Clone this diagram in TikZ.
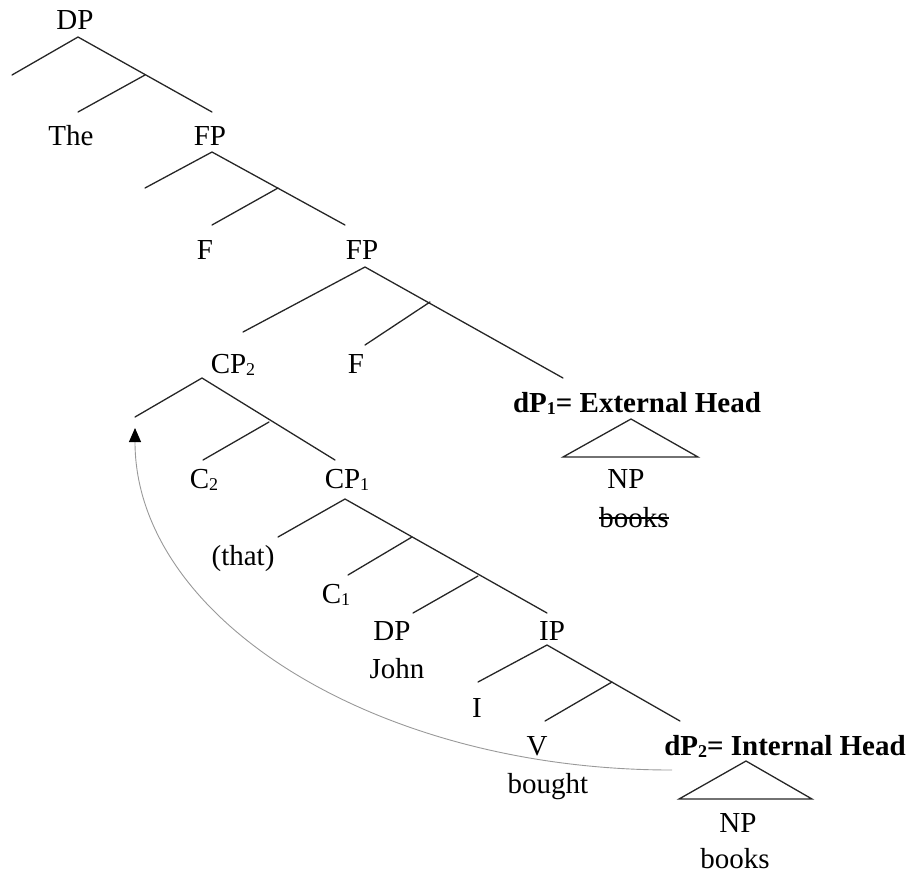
\documentclass[tikz,border=0pt]{standalone}
\usepackage{fontspec}
\setmainfont{Liberation Serif}
\usetikzlibrary{arrows.meta}

\newcommand{\lsub}[1]{\raisebox{-1pt}{\fontsize{9}{10}\selectfont #1}}

\begin{document}
\begin{tikzpicture}[
    x=0.5pt, y=-0.5pt,
    lbl/.style={anchor=base, inner sep=0pt, font=\fontsize{14.5}{17}\selectfont},
    headlbl/.style={lbl, font=\fontsize{14.5}{17}\selectfont\bfseries},
    branch/.style={draw, black!85, line width=0.65pt, line cap=round},
    strike/.style={draw, line width=0.55pt},
    movement/.style={draw, gray!80, line width=0.45pt, -{Triangle[width=6pt, length=7pt, black]}}
]
    \useasboundingbox (0,0) rectangle (914,874);

    % Labels
    \node[lbl] (dp0) at (75,29) {DP};
    \node[lbl] (the) at (71,145) {The};
    \node[lbl] (fp1) at (210,145) {FP};
    \node[lbl] (f1) at (205,259) {F};
    \node[lbl] (fp2) at (362,259) {FP};
    \node[lbl] (cp2) at (233,373) {CP\lsub{2}};
    \node[lbl] (f2) at (356,373) {F};
    \node[headlbl] (dp1) at (637,412) {dP\lsub{1}= External Head};
    \node[lbl] (np1) at (626,488) {NP};
    \node[lbl] (bk1) at (634,527) {books};
    \node[lbl] (c2) at (204,488) {C\lsub{2}};
    \node[lbl] (cp1) at (347,488) {CP\lsub{1}};
    \node[lbl] (that) at (243,565) {(that)};
    \node[lbl] (c1) at (336,603) {C\lsub{1}};
    \node[lbl] (dpj) at (392,640) {DP};
    \node[lbl] (john) at (397,678) {John};
    \node[lbl] (ip) at (552,640) {IP};
    \node[lbl] (i0) at (477,717) {I};
    \node[lbl] (v0) at (537,755) {V};
    \node[lbl] (bought) at (548,793) {bought};
    \node[headlbl] (dp2) at (785,755) {dP\lsub{2}= Internal Head};
    \node[lbl] (np2) at (738,832) {NP};
    \node[lbl] (bk2) at (735,868) {books};

    % deleted copy
    \path[strike] ([yshift=4.5pt]bk1.base west) -- ([yshift=4.5pt]bk1.base east);

    % Branching points
    \coordinate (dp0-top) at (78,37);
    \coordinate (dp0-spec) at (12,75);
    \coordinate (dp0-mid) at (145,75);
    \coordinate (the-top) at (78,112);
    \coordinate (fp1-end) at (212,112);

    \coordinate (fp1-top) at (212,152);
    \coordinate (fp1-spec) at (145,188);
    \coordinate (fp1-mid) at (278,188);
    \coordinate (f1-top) at (212,225);
    \coordinate (fp2-end) at (345,225);

    \coordinate (fp2-top) at (365,267);
    \coordinate (cp2-end) at (243,332);
    \coordinate (fp2-mid) at (430,302);
    \coordinate (f2-top) at (365,345);
    \coordinate (dp1-end) at (563,378);

    \coordinate (cp2-top) at (202,378);
    \coordinate (cp2-spec) at (135,417);
    \coordinate (cp2-mid) at (269,422);
    \coordinate (c2-top) at (203,460);
    \coordinate (cp1-end) at (335,460);

    \coordinate (cp1-top) at (345,499);
    \coordinate (that-top) at (278,537);
    \coordinate (cp1-mid) at (412,537);
    \coordinate (c1-top) at (348,575);
    \coordinate (cp1-low) at (478,576);
    \coordinate (dpj-top) at (413,613);
    \coordinate (ip-end) at (547,613);

    \coordinate (ip-top) at (547,645);
    \coordinate (i0-top) at (478,682);
    \coordinate (ip-mid) at (612,682);
    \coordinate (v0-top) at (545,721);
    \coordinate (dp2-end) at (680,721);

    \coordinate (move-from) at (672,770);
    \coordinate (move-to) at (135,428);

    % Tree branches
    \path[branch] (dp0-spec) -- (dp0-top) -- (fp1-end);
    \path[branch] (dp0-mid) -- (the-top);
    \path[branch] (fp1-spec) -- (fp1-top) -- (fp2-end);
    \path[branch] (fp1-mid) -- (f1-top);
    \path[branch] (cp2-end) -- (fp2-top) -- (dp1-end);
    \path[branch] (fp2-mid) -- (f2-top);
    \path[branch] (cp2-spec) -- (cp2-top) -- (cp1-end);
    \path[branch] (cp2-mid) -- (c2-top);
    \path[branch] (that-top) -- (cp1-top) -- (ip-end);
    \path[branch] (cp1-mid) -- (c1-top);
    \path[branch] (cp1-low) -- (dpj-top);
    \path[branch] (i0-top) -- (ip-top) -- (dp2-end);
    \path[branch] (ip-mid) -- (v0-top);

    % Triangles
    \path[branch] (631,419) -- (698,457) -- (563,457) -- cycle;
    \path[branch] (746,761) -- (812,799) -- (679,799) -- cycle;

    % Movement arrow
    \path[movement] (move-from) .. controls (375,770) and (135,618) .. (move-to);

\end{tikzpicture}
\end{document}
